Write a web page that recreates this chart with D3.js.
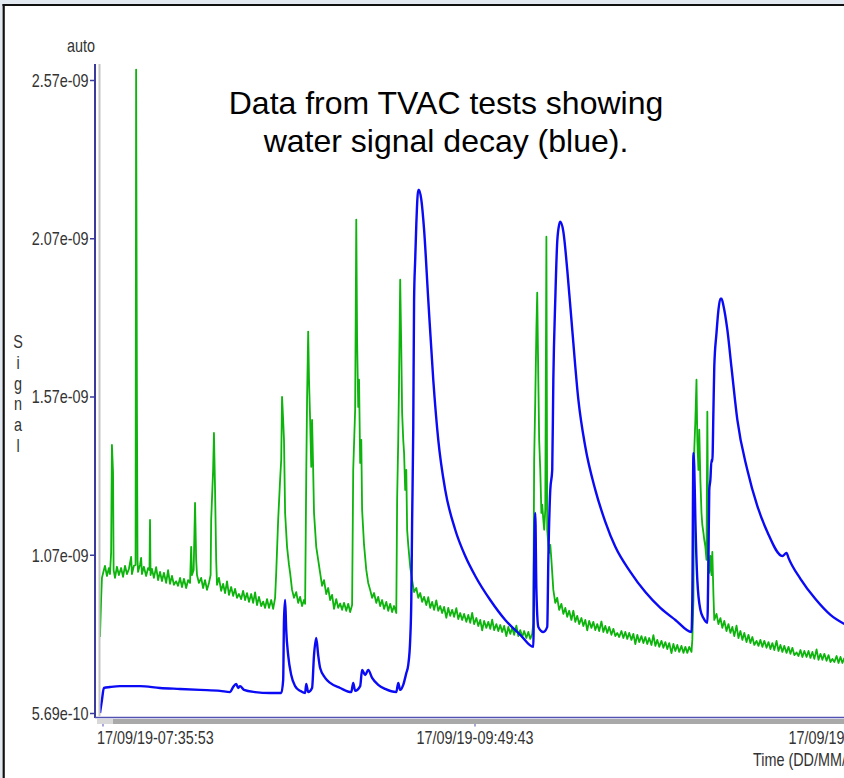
<!DOCTYPE html>
<html lang="en">
<head>
<meta charset="UTF-8">
<title>TVAC water signal decay</title>
<script src="https://d3js.org/d3.v7.min.js"></script>
<style>
  body { margin: 0; background: #fff; }
  svg { display: block; }
  text { font-family: "Liberation Sans", Arial, sans-serif; }
</style>
</head>
<body>
<svg id="chart"></svg>
<script>
// signal values are in units of 1e-9, time is minutes after the first sample
const startTime = "17/09/19-07:34:48";
const yTickValues = [0.569, 1.069, 1.569, 2.069, 2.569];
const yTickLabels = ["5.69e-10", "1.07e-09", "1.57e-09", "2.07e-09", "2.57e-09"];
const xTickLabels = ["17/09/19-07:35:53", "17/09/19-09:49:43", "17/09/19-12:03:33"];
const titleLines = ["Data from TVAC tests showing", "water signal decay (blue)."];

// water signal (blue)
const blueSeries = [
  [0,0.569],[0.7,0.610],[1.4,0.648],[3.6,0.651],[7.2,0.654],[10.8,0.654],[14.4,0.654],[21.6,0.648],
  [28.8,0.645],[36.0,0.642],[43.2,0.639],[46.8,0.635],[47.9,0.651],[49.0,0.661],[49.7,0.648],[50.4,0.654],
  [51.8,0.642],[55.8,0.635],[61.2,0.632],[65.2,0.632],[65.9,0.673],[66.2,0.863],[66.6,0.926],[67.0,0.831],
  [67.7,0.752],[68.8,0.689],[70.2,0.654],[72.0,0.639],[73.8,0.632],[74.2,0.661],[74.9,0.635],[76.3,0.648],
  [77.0,0.752],[77.8,0.806],[78.5,0.752],[79.2,0.711],[81.0,0.680],[82.8,0.664],[86.4,0.648],[90.4,0.635],
  [91.1,0.664],[91.8,0.639],[93.6,0.654],[94.3,0.705],[95.4,0.689],[96.5,0.705],[97.9,0.680],[100.1,0.658],
  [102.6,0.645],[106.6,0.635],[107.3,0.664],[108.0,0.642],[109.1,0.658],[110.2,0.695],[110.9,0.721],[111.6,0.800],
  [112.0,0.926],[112.3,1.179],[112.7,1.464],[113.0,1.875],[113.4,2.001],[113.8,2.112],[114.5,2.222],[114.8,2.222],
  [115.6,2.191],[116.6,2.096],[118.1,1.875],[119.9,1.622],[121.7,1.432],[124.2,1.274],[127.8,1.148],[131.4,1.065],
  [135.0,1.002],[140.4,0.926],[145.8,0.863],[151.2,0.816],[155.9,0.778],[156.2,1.053],[156.6,1.201],[157.0,0.958],
  [157.7,0.841],[159.5,0.825],[160.9,0.841],[161.3,1.053],[162.0,1.274],[162.7,1.337],[163.1,1.622],[163.8,1.875],
  [164.5,2.058],[165.2,2.112],[165.6,2.121],[166.7,2.090],[168.1,1.970],[169.9,1.780],[172.1,1.559],[174.6,1.410],
  [178.2,1.274],[181.8,1.173],[185.4,1.094],[190.8,1.015],[196.2,0.951],[201.6,0.901],[207.0,0.863],[212.8,0.825],
  [213.1,0.926],[213.5,1.391],[213.8,1.347],[214.2,1.179],[214.9,0.989],[216.0,0.895],[217.1,0.869],[218.5,0.854],
  [218.9,1.053],[219.2,1.274],[219.6,1.306],[220.0,1.369],[220.3,1.363],[220.7,1.527],[221.0,1.663],[221.8,1.770],
  [222.5,1.843],[223.2,1.878],[223.6,1.878],[224.3,1.856],[225.7,1.780],[227.2,1.660],[229.3,1.495],[232.9,1.337],
  [236.5,1.223],[240.1,1.141],[245.5,1.065],[247.0,1.075],[247.7,1.059],[252.0,0.993],[257.4,0.929],[262.8,0.879],
  [267.8,0.850]
];

// second signal (green)
const greenSeries = [
  [0,0.809],[0.4,0.926],[0.7,0.996],[1.4,1.021],[1.8,1.034],[2.5,1.002],[3.2,1.027],[3.6,1.008],
  [4.0,1.075],[4.3,1.416],[4.7,1.328],[4.9,1.021],[5.4,0.996],[6.1,1.031],[6.8,1.005],[7.6,1.027],
  [8.3,0.999],[9.0,1.034],[9.7,1.008],[10.4,1.024],[11.2,1.062],[11.5,1.008],[12.2,1.034],[12.8,1.037],
  [13.0,2.602],[13.3,1.517],[13.5,1.053],[13.7,1.015],[14.4,1.037],[14.8,1.059],[15.1,1.008],[15.8,1.031],
  [16.6,1.002],[17.3,1.027],[17.8,1.021],[18.0,1.179],[18.2,1.005],[18.7,1.024],[19.4,0.996],[20.2,1.030],
  [20.9,0.989],[21.6,1.015],[22.3,0.986],[23.0,1.012],[23.8,0.980],[24.5,1.020],[25.2,0.977],[25.9,1.002],
  [26.6,0.974],[27.4,0.985],[28.1,0.971],[28.8,0.996],[29.5,0.967],[30.2,0.993],[31.0,0.964],[31.7,0.989],
  [32.4,0.980],[32.8,1.094],[33.1,1.005],[33.7,1.021],[34.2,1.233],[34.6,1.053],[34.9,1.005],[35.6,0.980],
  [36.4,0.996],[37.1,0.964],[37.8,0.989],[38.5,0.958],[39.2,0.980],[39.8,1.005],[40.0,1.179],[40.7,1.337],
  [41.0,1.454],[41.4,1.274],[41.8,1.053],[42.1,0.974],[42.8,0.996],[43.6,0.955],[44.3,0.977],[45.0,0.948],
  [45.7,0.985],[46.4,0.942],[47.2,0.967],[47.9,0.939],[48.6,0.961],[49.3,0.933],[50.0,0.945],[50.8,0.929],
  [51.5,0.955],[52.2,0.926],[52.9,0.948],[53.6,0.920],[54.4,0.945],[55.1,0.917],[55.8,0.950],[56.5,0.910],
  [57.2,0.936],[58.0,0.907],[58.7,0.921],[59.4,0.901],[60.1,0.929],[60.8,0.901],[61.6,0.926],[62.3,0.898],
  [63.0,0.933],[63.4,1.012],[64.1,1.179],[64.8,1.306],[65.2,1.369],[65.5,1.568],[65.9,1.495],[66.2,1.432],
  [66.6,1.201],[67.3,1.094],[68.0,1.037],[68.4,1.012],[69.1,0.958],[69.8,0.933],[70.6,0.951],[71.3,0.917],
  [72.0,0.936],[72.7,0.907],[73.4,0.926],[73.8,0.914],[74.2,1.315],[74.5,1.559],[74.9,1.774],[75.2,1.622],
  [75.6,1.495],[76.0,1.347],[76.3,1.495],[76.7,1.337],[77.0,1.201],[77.8,1.094],[78.5,1.053],[79.2,1.012],
  [79.9,0.971],[80.6,0.989],[81.4,0.945],[82.1,0.964],[82.8,0.926],[83.5,0.942],[84.2,0.898],[85.0,0.929],
  [85.7,0.901],[86.4,0.915],[87.1,0.895],[87.8,0.917],[88.6,0.892],[89.3,0.914],[90.0,0.888],[90.7,0.910],
  [91.1,1.337],[91.8,1.527],[92.2,2.128],[92.5,1.748],[92.9,1.536],[93.2,1.622],[93.6,1.359],[94.0,1.432],
  [94.3,1.211],[95.0,1.100],[95.8,1.021],[96.5,0.980],[97.2,0.958],[97.9,0.933],[98.6,0.948],[99.4,0.917],
  [100.1,0.936],[100.8,0.907],[101.5,0.926],[102.2,0.898],[103.0,0.920],[103.7,0.892],[104.4,0.914],[105.1,0.888],
  [105.8,0.907],[106.6,0.885],[106.9,1.242],[107.3,1.432],[107.6,1.622],[108.0,1.938],[108.4,1.717],[108.7,1.517],
  [109.1,1.432],[109.4,1.391],[109.8,1.274],[110.2,1.337],[110.5,1.148],[110.9,1.100],[111.6,1.031],[112.3,0.989],
  [113.0,0.951],[113.8,0.964],[114.5,0.933],[115.2,0.948],[115.9,0.920],[116.6,0.936],[117.4,0.910],[118.1,0.935],
  [118.8,0.901],[119.5,0.920],[120.2,0.895],[121.0,0.925],[121.7,0.892],[122.4,0.907],[123.1,0.885],[123.8,0.904],
  [124.6,0.870],[125.3,0.901],[126.0,0.876],[126.7,0.895],[127.4,0.873],[128.2,0.900],[128.9,0.866],[129.6,0.885],
  [130.3,0.863],[131.0,0.882],[131.8,0.857],[132.5,0.879],[133.2,0.854],[133.9,0.885],[134.6,0.850],[135.4,0.869],
  [136.1,0.844],[136.8,0.863],[137.5,0.830],[138.2,0.860],[139.0,0.838],[139.7,0.857],[140.4,0.835],[141.1,0.864],
  [141.8,0.831],[142.6,0.850],[143.3,0.828],[144.0,0.847],[144.7,0.825],[145.4,0.844],[146.2,0.812],[146.9,0.841],
  [147.6,0.819],[148.3,0.838],[149.0,0.816],[149.8,0.845],[150.5,0.812],[151.2,0.831],[151.9,0.809],[152.6,0.828],
  [153.4,0.806],[154.1,0.825],[154.8,0.803],[155.5,0.819],[155.9,0.854],[156.2,1.369],[156.6,1.559],[157.0,1.780],
  [157.3,1.897],[157.7,1.622],[158.0,1.432],[158.4,1.337],[158.8,1.201],[159.1,1.227],[159.5,1.179],[159.8,1.148],
  [160.2,1.211],[160.6,2.074],[160.9,1.148],[161.3,1.100],[161.6,1.075],[162.0,1.100],[162.4,1.053],[163.1,0.958],
  [163.8,0.917],[164.5,0.933],[165.2,0.895],[166.0,0.914],[166.7,0.882],[167.4,0.901],[168.1,0.873],[168.8,0.892],
  [169.6,0.863],[170.3,0.892],[171.0,0.857],[171.7,0.876],[172.4,0.850],[173.2,0.869],[173.9,0.844],[174.6,0.863],
  [175.3,0.830],[176.0,0.860],[176.8,0.838],[177.5,0.857],[178.2,0.831],[178.9,0.850],[179.6,0.828],[180.4,0.858],
  [181.1,0.825],[181.8,0.844],[182.5,0.822],[183.2,0.841],[184.0,0.816],[184.7,0.835],[185.4,0.812],[186.1,0.822],
  [186.8,0.809],[187.6,0.828],[188.3,0.806],[189.0,0.825],[189.7,0.803],[190.4,0.822],[191.2,0.800],[191.9,0.819],
  [192.6,0.787],[193.3,0.816],[194.0,0.793],[194.8,0.812],[195.5,0.790],[196.2,0.809],[196.9,0.787],[197.6,0.806],
  [198.4,0.784],[199.1,0.815],[199.8,0.781],[200.5,0.800],[201.2,0.778],[202.0,0.797],[202.7,0.775],[203.4,0.793],
  [204.1,0.771],[204.8,0.790],[205.6,0.758],[206.3,0.787],[207.0,0.765],[207.7,0.784],[208.4,0.762],[209.2,0.781],
  [209.9,0.759],[210.6,0.778],[211.3,0.759],[212.0,0.778],[212.8,0.762],[213.1,0.800],[213.5,0.926],[213.8,1.400],
  [214.2,1.495],[214.6,1.622],[214.9,1.432],[215.3,1.337],[215.6,1.464],[216.0,1.306],[216.4,1.201],[216.7,1.163],
  [217.1,1.138],[217.4,1.116],[217.8,1.094],[218.2,1.053],[218.5,1.521],[218.9,1.021],[219.2,1.012],[219.6,1.065],
  [220.0,1.005],[220.3,1.078],[220.7,0.942],[221.0,0.863],[221.8,0.882],[222.5,0.850],[223.2,0.869],[223.9,0.838],
  [224.6,0.860],[225.4,0.828],[226.1,0.850],[226.8,0.822],[227.5,0.841],[228.2,0.812],[229.0,0.845],[229.7,0.806],
  [230.4,0.828],[231.1,0.800],[231.8,0.822],[232.6,0.793],[233.3,0.816],[234.0,0.790],[234.7,0.809],[235.4,0.784],
  [236.2,0.797],[236.9,0.781],[237.6,0.800],[238.3,0.778],[239.0,0.797],[239.8,0.775],[240.5,0.793],[241.2,0.771],
  [241.9,0.790],[242.6,0.768],[243.4,0.797],[244.1,0.765],[244.8,0.784],[245.5,0.762],[246.2,0.781],[247.0,0.759],
  [247.7,0.778],[248.4,0.756],[249.1,0.775],[249.8,0.752],[250.6,0.760],[251.3,0.749],[252.0,0.768],[252.7,0.746],
  [253.4,0.765],[254.2,0.746],[254.9,0.765],[255.6,0.743],[256.3,0.762],[257.0,0.740],[257.8,0.770],[258.5,0.737],
  [259.2,0.756],[259.9,0.737],[260.6,0.756],[261.4,0.734],[262.1,0.752],[262.8,0.730],[263.5,0.740],[264.2,0.730],
  [265.0,0.749],[265.7,0.727],[266.4,0.746],[267.1,0.727],[267.8,0.743]
];

const width = 844, height = 778;
const axisColor = "#3b3b9b";
const labelColor = "#333";

const svg = d3.select("#chart").attr("width", width).attr("height", height);

const parseTime = d3.timeParse("%d/%m/%y-%H:%M:%S");
const t0 = parseTime(startTime);
const xTicks = xTickLabels.map(parseTime);

const x = d3.scaleTime()
    .domain([xTicks[0], xTicks[1]])
    .range([103, 475]);

const y = d3.scaleLinear()
    .domain([yTickValues[0], yTickValues[yTickValues.length - 1]])
    .range([713, 80]);

const timeOf = m => new Date(t0.getTime() + m * 60000);

// window frame
svg.append("rect").attr("x", 0).attr("y", 0).attr("width", width).attr("height", 4).attr("fill", "#e3e9f0");
svg.append("rect").attr("x", 0).attr("y", 0).attr("width", 2.5).attr("height", height).attr("fill", "#e3e9f0");
svg.append("line").attr("x1", 2.5).attr("x2", width).attr("y1", 5).attr("y2", 5)
    .attr("stroke", "#111").attr("stroke-width", 2.2);
svg.append("line").attr("x1", 3.7).attr("x2", 3.7).attr("y1", 4).attr("y2", height)
    .attr("stroke", "#111").attr("stroke-width", 2.2);

// plot area
svg.append("clipPath").attr("id", "plot-clip")
  .append("rect").attr("x", 100).attr("y", 60).attr("width", width - 100).attr("height", 656);

const greenLine = d3.line()
    .x(d => x(timeOf(d[0])))
    .y(d => y(d[1]));

const blueLine = d3.line()
    .curve(d3.curveMonotoneX)
    .x(d => x(timeOf(d[0])))
    .y(d => y(d[1]));

const plot = svg.append("g").attr("clip-path", "url(#plot-clip)");

plot.append("path")
    .datum(greenSeries)
    .attr("d", greenLine)
    .attr("fill", "none")
    .attr("stroke", "#0cb40c")
    .attr("stroke-width", 1.8)
    .attr("stroke-linejoin", "round");

plot.append("path")
    .datum(blueSeries)
    .attr("d", blueLine)
    .attr("fill", "none")
    .attr("stroke", "#0a0af5")
    .attr("stroke-width", 2.4)
    .attr("stroke-linejoin", "round");

// axis lines: grey rule + blue axis on the left, blue axis + grey bar at the bottom
svg.append("line").attr("x1", 99.5).attr("x2", 99.5).attr("y1", 64).attr("y2", 716)
    .attr("stroke", "#c4c4c4").attr("stroke-width", 2);
svg.append("line").attr("x1", 95).attr("x2", 95).attr("y1", 64).attr("y2", 718)
    .attr("stroke", axisColor).attr("stroke-width", 2);
svg.append("line").attr("x1", 95).attr("x2", width).attr("y1", 717.5).attr("y2", 717.5)
    .attr("stroke", "#5252b4").attr("stroke-width", 1.5);
svg.append("rect").attr("x", 97).attr("y", 719).attr("width", 16).attr("height", 5).attr("fill", "#d8d8d8");
svg.append("rect").attr("x", 113).attr("y", 719).attr("width", width - 113).attr("height", 5).attr("fill", "#a9a9a9");

// y axis ticks and labels
const yAxis = svg.append("g").attr("transform", "translate(95,0)")
    .call(d3.axisLeft(y)
        .tickValues(yTickValues)
        .tickFormat((d, i) => yTickLabels[i])
        .tickSize(5)
        .tickSizeOuter(0));
yAxis.select(".domain").remove();
yAxis.selectAll(".tick line").attr("stroke", axisColor).attr("stroke-width", 1.5);
yAxis.selectAll(".tick text")
    .attr("x", -6.5 / 0.8)
    .attr("dy", "0.36em")
    .attr("transform", "scale(0.8,1)")
    .attr("fill", labelColor)
    .style("font-size", "18px")
    .style("font-family", "'Liberation Sans', Arial, sans-serif");

// x axis ticks and labels
const xt = svg.append("g").selectAll(".xtick")
    .data(xTicks)
    .join("g")
    .attr("class", "xtick")
    .attr("transform", d => `translate(${x(d)},0)`);

xt.append("line").attr("y1", 724).attr("y2", 726.5)
    .attr("stroke", "#6a6ac8").attr("stroke-width", 1.2);

xt.append("text")
    .attr("transform", (d, i) => `translate(${i === 0 ? -6 : 0},744) scale(0.8,1)`)
    .attr("text-anchor", (d, i) => i === 0 ? "start" : "middle")
    .attr("fill", labelColor)
    .style("font-size", "18px")
    .text((d, i) => xTickLabels[i]);

svg.append("text")
    .attr("transform", `translate(753,766) scale(0.8,1)`)
    .attr("fill", labelColor)
    .style("font-size", "18px")
    .text("Time (DD/MM/YY-HH:MM:SS)");

// axis captions
svg.append("text")
    .attr("transform", "translate(81,52) scale(0.8,1)")
    .attr("text-anchor", "middle")
    .attr("fill", labelColor)
    .style("font-size", "18px")
    .text("auto");

svg.append("g").selectAll("text")
    .data("Signal".split(""))
    .join("text")
    .attr("transform", (d, i) => `translate(18,${348 + i * 20.8}) scale(0.8,1)`)
    .attr("text-anchor", "middle")
    .attr("fill", labelColor)
    .style("font-size", "18px")
    .text(d => d);

// annotation
svg.append("g").selectAll("text")
    .data(titleLines)
    .join("text")
    .attr("x", 446)
    .attr("y", (d, i) => 114 + i * 38)
    .attr("text-anchor", "middle")
    .attr("fill", "#000")
    .style("font-size", "32px")
    .text(d => d);
</script>
</body>
</html>
